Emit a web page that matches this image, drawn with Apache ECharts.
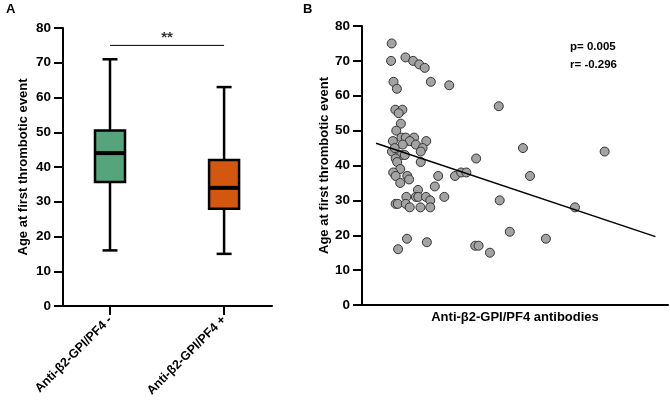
<!DOCTYPE html>
<html>
<head>
<meta charset="utf-8">
<script src="https://cdn.jsdelivr.net/npm/echarts@6/dist/echarts.min.js"></script>
<style>
  html, body { margin: 0; padding: 0; background: #fff; }
  #chart { width: 670px; height: 403px; }
</style>
</head>
<body>
<div id="chart"></div>
<script>
// panel A: box plot summary
var groups = ['Anti-\u03b22-GPI/PF4 -', 'Anti-\u03b22-GPI/PF4 +'];
var groupPos = [1, 2];
var mins = [16, 15];
var q1s = [35.7, 28];
var medians = [44, 34];
var q3s = [50.5, 42];
var maxs = [71, 63];
var boxColors = ['#55a47b', '#d4570f'];
var sigY = 75;

// panel B: scatter
var xs = [9.7, 9.5, 14.2, 16.7, 18.7, 20.5, 10.3, 22.5, 28.5, 11.4,
          10.9, 13.2, 12.0, 44.7, 12.7, 11.2, 10.1, 12.9, 14.3, 17.0,
          15.6, 13.3, 17.6, 21.0, 19.8, 19.2, 9.8, 10.7, 12.9, 14.0,
          11.0, 11.5, 19.2, 12.5, 10.2, 11.0, 14.8, 15.4, 12.5, 37.3,
          52.6, 79.3, 24.9, 30.4, 32.4, 34.1, 54.9, 23.8, 18.3, 17.6,
          14.5, 18.4, 20.9, 22.3, 26.9, 45.0, 11.0, 11.7, 14.3, 15.6,
          19.1, 22.3, 69.6, 48.3, 60.1, 14.7, 21.2, 11.8, 37.0, 38.1, 41.8];
var ys = [75, 70, 71, 70, 69, 68, 64, 64, 63, 62,
          56, 56, 55, 57, 52, 50, 47, 48, 48, 48,
          47, 46, 46, 47, 45, 44, 44, 45, 43, 43,
          42, 41, 41, 39, 38, 37, 37, 36, 35, 42,
          45, 44, 37, 37, 38, 38, 37, 34, 33, 31,
          31, 31, 31, 30, 31, 30, 29, 29, 29, 28,
          28, 28, 28, 21, 19, 19, 18, 16, 17, 17, 15];
var fitX = [4.6, 95.9];
var fitY = [46.4, 19.6];

var font = 'Liberation Sans';
var chart = echarts.init(document.getElementById('chart'));

var boxData = groupPos.map(function (x, i) {
  return [x, mins[i], q1s[i], medians[i], q3s[i], maxs[i], i];
});
var scatterData = xs.map(function (x, i) { return [x, ys[i]]; });

function yAxisOf(gi, gap) {
  return {
    type: 'value', gridIndex: gi, min: 0, max: 80, interval: 10,
    name: 'Age at first thrombotic event', nameLocation: 'middle', nameGap: gap,
    nameTextStyle: { fontFamily: font, fontWeight: 'bold', fontSize: 13, color: '#000' },
    axisLine: { show: true, lineStyle: { color: '#000', width: 2 } },
    axisTick: { show: true, length: 9, lineStyle: { color: '#000', width: 2 } },
    axisLabel: { margin: 12, fontFamily: font, fontWeight: 'bold', fontSize: 13.5, color: '#000' },
    splitLine: { show: false }
  };
}

var option = {
  animation: false,
  backgroundColor: '#fff',
  grid: [
    { left: 63, top: 28, width: 209, height: 278 },
    { left: 362, top: 26, width: 306, height: 279 }
  ],
  xAxis: [
    {
      type: 'value', gridIndex: 0, min: 0.588, max: 2.42,
      axisLine: { show: true, lineStyle: { color: '#000', width: 2 } },
      axisTick: { show: true, length: 9, customValues: groupPos, lineStyle: { color: '#000', width: 2 } },
      axisLabel: {
        customValues: groupPos, rotate: 45, margin: 12,
        fontFamily: font, fontWeight: 'bold', fontSize: 12.5, color: '#000',
        formatter: function (v) { return groups[groupPos.indexOf(v)] || ''; }
      },
      splitLine: { show: false }
    },
    {
      type: 'value', gridIndex: 1, min: 0, max: 100,
      name: 'Anti-\u03b22-GPI/PF4 antibodies', nameLocation: 'middle', nameGap: 6,
      nameTextStyle: { fontFamily: font, fontWeight: 'bold', fontSize: 13, color: '#000' },
      axisLine: { show: true, lineStyle: { color: '#000', width: 2 } },
      axisTick: { show: false },
      axisLabel: { show: false },
      splitLine: { show: false }
    }
  ],
  yAxis: [yAxisOf(0, 33), yAxisOf(1, 29)],
  graphic: [
    { type: 'text', left: 6, top: 3, style: { text: 'A', font: 'bold 13px ' + font, fill: '#000' } },
    { type: 'text', left: 303, top: 3, style: { text: 'B', font: 'bold 13px ' + font, fill: '#000' } },
    { type: 'text', left: 570, top: 41, style: { text: 'p= 0.005', font: 'bold 11.5px ' + font, fill: '#000' } },
    { type: 'text', left: 570, top: 59, style: { text: 'r= -0.296', font: 'bold 11.5px ' + font, fill: '#000' } }
  ],
  series: [
    {
      type: 'custom', xAxisIndex: 0, yAxisIndex: 0,
      data: boxData,
      renderItem: function (params, api) {
        var x = api.value(0);
        var lo = api.coord([x, api.value(1)]);
        var q1 = api.coord([x, api.value(2)]);
        var med = api.coord([x, api.value(3)]);
        var q3 = api.coord([x, api.value(4)]);
        var hi = api.coord([x, api.value(5)]);
        var cx = lo[0], half = 15, cap = 7.5;
        var color = boxColors[api.value(6)];
        var ls = { stroke: '#000', lineWidth: 2.5 };
        return {
          type: 'group',
          children: [
            { type: 'line', shape: { x1: cx, y1: hi[1], x2: cx, y2: q3[1] }, style: ls },
            { type: 'line', shape: { x1: cx, y1: q1[1], x2: cx, y2: lo[1] }, style: ls },
            { type: 'line', shape: { x1: cx - cap, y1: hi[1], x2: cx + cap, y2: hi[1] }, style: ls },
            { type: 'line', shape: { x1: cx - cap, y1: lo[1], x2: cx + cap, y2: lo[1] }, style: ls },
            { type: 'rect', shape: { x: cx - half, y: q3[1], width: half * 2, height: q1[1] - q3[1] },
              style: { fill: color, stroke: '#000', lineWidth: 2.5 } },
            { type: 'line', shape: { x1: cx - half, y1: med[1], x2: cx + half, y2: med[1] },
              style: { stroke: '#000', lineWidth: 4 } }
          ]
        };
      }
    },
    {
      type: 'line', xAxisIndex: 0, yAxisIndex: 0,
      data: [[groupPos[0], sigY], [groupPos[1], sigY]],
      symbol: 'none', lineStyle: { color: '#000', width: 1 }, silent: true
    },
    {
      type: 'scatter', xAxisIndex: 0, yAxisIndex: 0,
      data: [[(groupPos[0] + groupPos[1]) / 2, sigY]],
      symbolSize: 0,
      label: { show: true, position: 'top', distance: 0, formatter: '**',
               fontFamily: font, fontWeight: 'bold', fontSize: 15, color: '#000' }
    },
    {
      type: 'scatter', xAxisIndex: 1, yAxisIndex: 1,
      data: scatterData, symbolSize: 9,
      itemStyle: { color: '#a3a3a3', borderColor: '#333', borderWidth: 1, opacity: 1 }
    },
    {
      type: 'line', xAxisIndex: 1, yAxisIndex: 1,
      data: [[fitX[0], fitY[0]], [fitX[1], fitY[1]]],
      symbol: 'none', lineStyle: { color: '#000', width: 1.5 }, z: 3
    }
  ]
};

chart.setOption(option);
</script>
</body>
</html>
